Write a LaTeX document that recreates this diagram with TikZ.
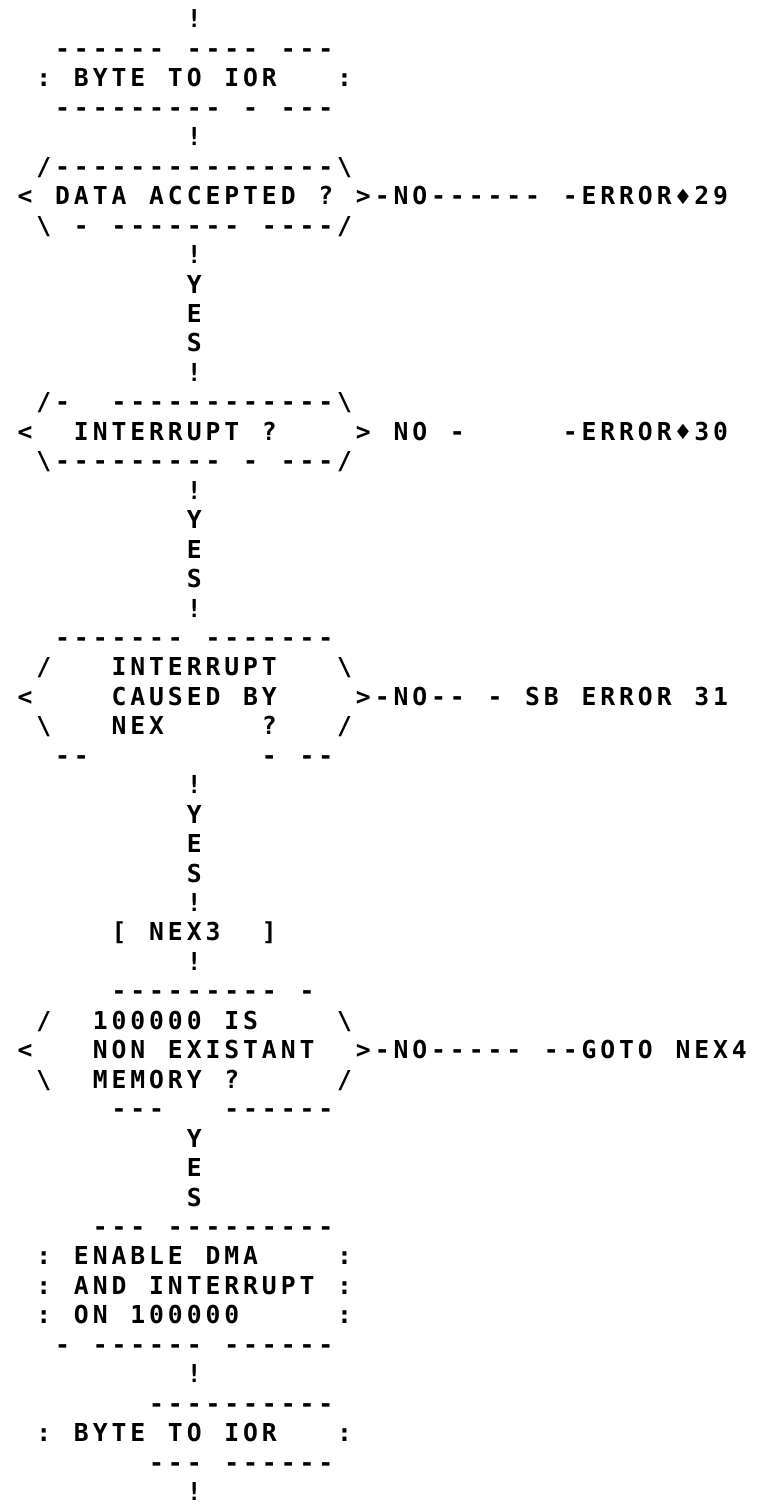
\documentclass[tikz,border=0pt]{standalone}
\usepackage{fontspec}
\newfontfamily\lpfont{DejaVu Sans Mono}
\newfontfamily\lpsym{DejaVu Sans}

% one printer cell: 18.8 x 29.45 units, 1 unit = 0.5pt
\tikzset{
  lpchar/.style={inner sep=0pt, outer sep=0pt, anchor=base,
    font=\lpfont\bfseries\fontsize{12.35}{12.35}\selectfont},
}

\ExplSyntaxOn
\int_new:N \l__lp_col_int
\cs_new_protected:Npn \__lp_put:nnn #1 #2 #3
  { \node[lpchar]~(lp-#1-#2)~at~(25+18.8*#2,28+29.45*#1)~{#3}; }
\cs_generate_variant:Nn \__lp_put:nnn { nVn }
% \lprow{row}{cells}: "." is an empty cell, "|" a backslash
\NewDocumentCommand \lprow { m m }
  {
    \int_zero:N \l__lp_col_int
    \str_map_inline:nn { #2 }
      {
        \str_case:nnF { ##1 }
          {
            { . } { }
            { | } { \__lp_put:nVn {#1} \l__lp_col_int { \textbackslash } }
            { ♦ } { \__lp_put:nVn {#1} \l__lp_col_int
                      { \lpsym\fontsize{10.5}{10.5}\selectfont\raisebox{0.3pt}{♦} } }
          }
          { \__lp_put:nVn {#1} \l__lp_col_int { ##1 } }
        \int_incr:N \l__lp_col_int
      }
  }
\ExplSyntaxOff

\begin{document}
\begin{tikzpicture}[x=0.5pt,y=-0.5pt]
\fill[white] (0,0) rectangle (764,1508);
\path[use as bounding box] (0,0) rectangle (764,1508);

\lprow{0}{.........!}
\lprow{1}{..------.----.---}
\lprow{2}{.:.BYTE.TO.IOR...:}
\lprow{3}{..---------.-.---}
\lprow{4}{.........!}
\lprow{5}{./---------------|}
\lprow{6}{<.DATA.ACCEPTED.?.>-NO------.-ERROR♦29}
\lprow{7}{.|.-.-------.----/}
\lprow{8}{.........!}
\lprow{9}{.........Y}
\lprow{10}{.........E}
\lprow{11}{.........S}
\lprow{12}{.........!}
\lprow{13}{./-..------------|}
\lprow{14}{<..INTERRUPT.?....>.NO.-.....-ERROR♦30}
\lprow{15}{.|---------.-.---/}
\lprow{16}{.........!}
\lprow{17}{.........Y}
\lprow{18}{.........E}
\lprow{19}{.........S}
\lprow{20}{.........!}
\lprow{21}{..-------.-------}
\lprow{22}{./...INTERRUPT...|}
\lprow{23}{<....CAUSED.BY....>-NO--.-.SB.ERROR.31}
\lprow{24}{.|...NEX.....?.../}
\lprow{25}{..--.........-.--}
\lprow{26}{.........!}
\lprow{27}{.........Y}
\lprow{28}{.........E}
\lprow{29}{.........S}
\lprow{30}{.........!}
\lprow{31}{.....[.NEX3..]}
\lprow{32}{.........!}
\lprow{33}{.....---------.-}
\lprow{34}{./..100000.IS....|}
\lprow{35}{<...NON.EXISTANT..>-NO-----.--GOTO.NEX4}
\lprow{36}{.|..MEMORY.?...../}
\lprow{37}{.....---...------}
\lprow{38}{.........Y}
\lprow{39}{.........E}
\lprow{40}{.........S}
\lprow{41}{....---.---------}
\lprow{42}{.:.ENABLE.DMA....:}
\lprow{43}{.:.AND.INTERRUPT.:}
\lprow{44}{.:.ON.100000.....:}
\lprow{45}{..-.------.------}
\lprow{46}{.........!}
\lprow{47}{.......----------}
\lprow{48}{.:.BYTE.TO.IOR...:}
\lprow{49}{.......---.------}
\lprow{50}{.........!}
\end{tikzpicture}
\end{document}
